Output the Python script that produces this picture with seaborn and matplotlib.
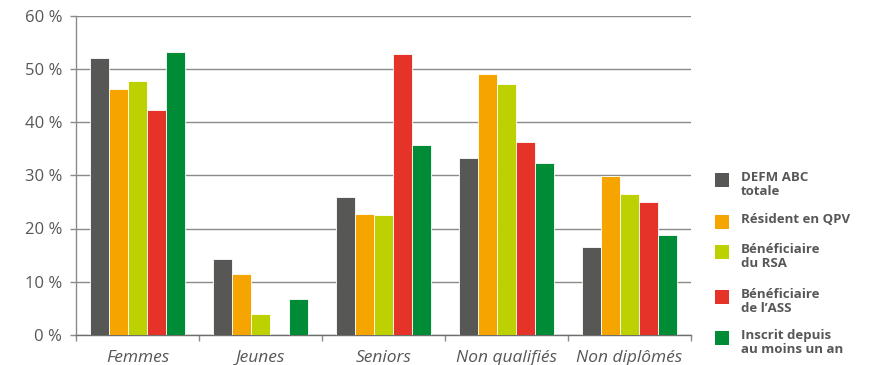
import matplotlib
matplotlib.use("Agg")
import matplotlib.pyplot as plt
from matplotlib.patches import Rectangle
import seaborn as sns
import pandas as pd

categories = ["Femmes", "Jeunes", "Seniors", "Non qualifiés", "Non diplômés"]
series = ["DEFM ABC\ntotale", "Résident en QPV", "Bénéficiaire\ndu RSA",
          "Bénéficiaire\nde l'ASS", "Inscrit depuis\nau moins un an"]
defm = [52.0, 14.2, 25.9, 33.3, 16.5]
qpv = [46.2, 11.5, 22.7, 49.1, 29.9]
rsa = [47.7, 3.9, 22.5, 47.2, 26.4]
ass = [42.2, 0.0, 52.8, 36.2, 25.0]
anciens = [53.2, 6.8, 35.7, 32.3, 18.7]
colors = ["#575756", "#F6A500", "#BDD000", "#E5332A", "#008C36"]
yticks = [0, 10, 20, 30, 40, 50, 60]
ytick_labels = ["0 %", "10 %", "20 %", "30 %", "40 %", "50 %", "60 %"]

rows = []
for s, vals in zip(series, [defm, qpv, rsa, ass, anciens]):
    for c, v in zip(categories, vals):
        rows.append({"cat": c, "series": s, "val": v})
df = pd.DataFrame(rows)

sns.set_theme(style="white")
plt.rcParams["font.family"] = ["Open Sans", "DejaVu Sans"]

fig = plt.figure(figsize=(8.73, 3.65), dpi=100)
ax = fig.add_axes([76 / 873, 1 - 335 / 365, (691 - 76) / 873, (335 - 15.5) / 365])

sns.barplot(data=df, x="cat", y="val", hue="series", palette=colors,
            hue_order=series, order=categories, width=0.77, gap=0, saturation=1,
            edgecolor="white", linewidth=0.6, legend=False, ax=ax, zorder=3)

grid_c = "#8a8a89"
ax.set_ylim(0, 60)
ax.set_xlim(-0.5, len(categories) - 0.5)
ax.set_yticks(yticks)
ax.set_yticklabels(ytick_labels, fontsize=12, color="#575756")
ax.yaxis.grid(True, color=grid_c, linewidth=1.0, zorder=0)
ax.set_axisbelow(True)

ax.set_xticks(range(len(categories)))
ax.set_xticklabels(categories, fontsize=12.5, color="#575756", style="italic")
ax.tick_params(axis="x", length=0, pad=11)
ax.set_xticks([i - 0.5 for i in range(len(categories) + 1)], minor=True)
ax.tick_params(axis="x", which="minor", length=4, width=1, color=grid_c, direction="out", bottom=True)
ax.tick_params(axis="y", length=4, width=1, color=grid_c, direction="out", left=True, pad=6)

ax.set_xlabel("")
ax.set_ylabel("")
for sp in ["top", "right"]:
    ax.spines[sp].set_visible(False)
ax.spines["left"].set_color(grid_c)
ax.spines["left"].set_linewidth(1.0)
ax.spines["bottom"].set_color("#6f6f6e")
ax.spines["bottom"].set_linewidth(1.0)

# legend drawn manually so squares align with first line of text
tops = [173, 215, 245, 290, 331]
for lab, col, top in zip(series, colors, tops):
    fig.patches.append(Rectangle((715 / 873, 1 - (top + 14) / 365), 14 / 873, 14 / 365,
                                 transform=fig.transFigure, facecolor=col, edgecolor="none"))
    fig.text(741 / 873, 1 - (top - 2) / 365, lab.replace("'", "’"), ha="left", va="top",
             fontsize=9.5, fontweight="bold", color="#575756", linespacing=1.1,
             family=["Open Sans", "DejaVu Sans"])

fig.savefig("out.png", dpi=100)
